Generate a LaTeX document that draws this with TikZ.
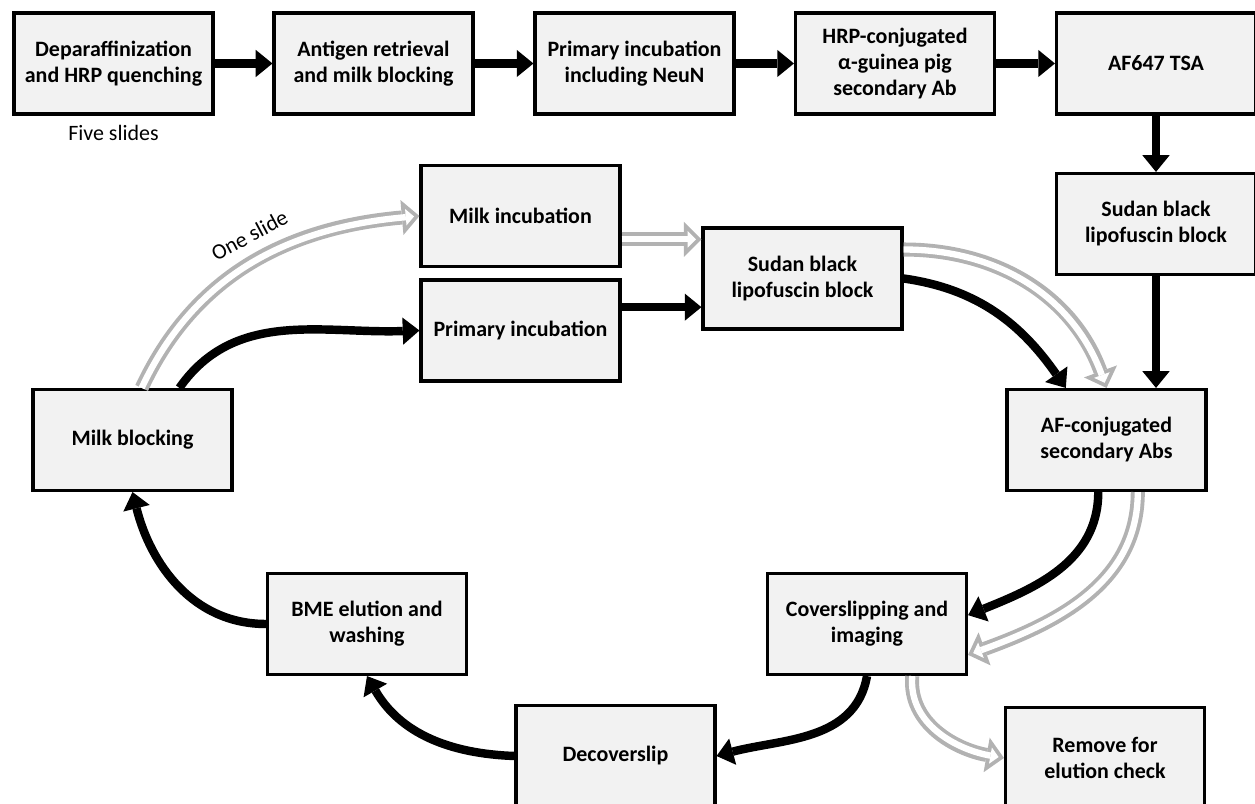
\documentclass[tikz,border=0pt]{standalone}
\usepackage{fontspec}
\setmainfont{Carlito}
\usetikzlibrary{arrows.meta,positioning}

\begin{document}
\begin{tikzpicture}[x=0.02cm,y=0.02cm,
  stage/.style={draw,line width=1.8pt,fill=gray!10,minimum width=3.98cm,minimum height=2.02cm,
    align=center,inner sep=2pt,font=\fontsize{12.5}{14.8}\selectfont\bfseries},
  note/.style={font=\fontsize{12.5}{14}\selectfont},
  blk/.style={line width=4.8pt,-{Triangle[length=9.5pt,width=15.5pt,line width=0pt]}},
  hol/.style={draw=gray!60,line width=8pt,-{Triangle[length=10pt,width=20pt,line width=0pt]},
    postaction={draw=white,line width=3.6pt,shorten >=3.1pt,-{Triangle[length=4.7pt,width=9.4pt,line width=0pt]}}}]
\useasboundingbox (0,0) rectangle (1255,804);
% first pass, five slides
\node[stage] (dep) at (113.5,740.5) {Deparaffinization\\and HRP quenching};
\node[stage] (ant) at (373.5,740.5) {Antigen retrieval\\and milk blocking};
\node[stage] (prim) at (634.5,740.5) {Primary incubation\\including NeuN};
\node[stage] (hrp) at (895,740.5) {HRP-conjugated\\α-guinea pig\\secondary Ab};
\node[stage] (tsa) at (1156,740.5) {AF647 TSA};
\node[note] (five) [below=2pt of dep] {Five slides};
\node[stage] (sudanR) at (1156,580) {Sudan black\\lipofuscin block};
% cycle
\node[stage] (milkb) at (132.5,364) {Milk blocking};
\node[stage] (milki) at (520.5,588) {Milk incubation};
\node[stage] (primi) at (520.5,473.5) {Primary incubation};
\node[stage] (sudanC) at (802.5,525.5) {Sudan black\\lipofuscin block};
\node[stage] (afc) at (1106.5,364) {AF-conjugated\\secondary Abs};
\node[stage] (cover) at (867,180) {Coverslipping and\\imaging};
\node[stage] (remove) at (1105,46) {Remove for\\elution check};
\node[stage] (decov) at (615.5,48) {Decoverslip};
\node[stage] (bme) at (367,180) {BME elution and\\washing};

\draw[blk] (dep) -- (ant);
\draw[blk] (ant) -- (prim);
\draw[blk] (prim) -- (hrp);
\draw[blk] (hrp) -- (tsa);
\draw[blk] (tsa) -- (sudanR);
\draw[blk] (sudanR.south) -- (sudanR.south |- afc.north);

\draw[hol] (milkb.80) to[out=65,in=185]
  node[note,pos=0.53,sloped,above=3pt] (oneslide) {One slide} (milki.west);
\draw[blk] (milkb.48) to[out=55,in=182] (primi.west);
\draw[hol] (milki.-13) -- (milki.-13 -| sudanC.west);
\draw[blk] (primi.13) -- (primi.13 -| sudanC.west);
\draw[blk] (sudanC.east) to[out=-8,in=125] (afc.128);
\draw[hol] (sudanC.16) to[out=0,in=110] (afc.north);
\draw[blk] (afc.261) to[out=-90,in=22] (cover.5);
\draw[hol] (afc.-59) to[out=-90,in=20] (cover.-17);
\draw[blk] (cover.south) to[out=-100,in=15] (decov.east);
\draw[hol] (cover.-49) to[out=-95,in=170] (remove.west);
\draw[blk] (decov.west) to[out=178,in=-60] (bme.south);
\draw[blk] (bme.west) to[out=180,in=-76] (milkb.south);
\end{tikzpicture}
\end{document}
